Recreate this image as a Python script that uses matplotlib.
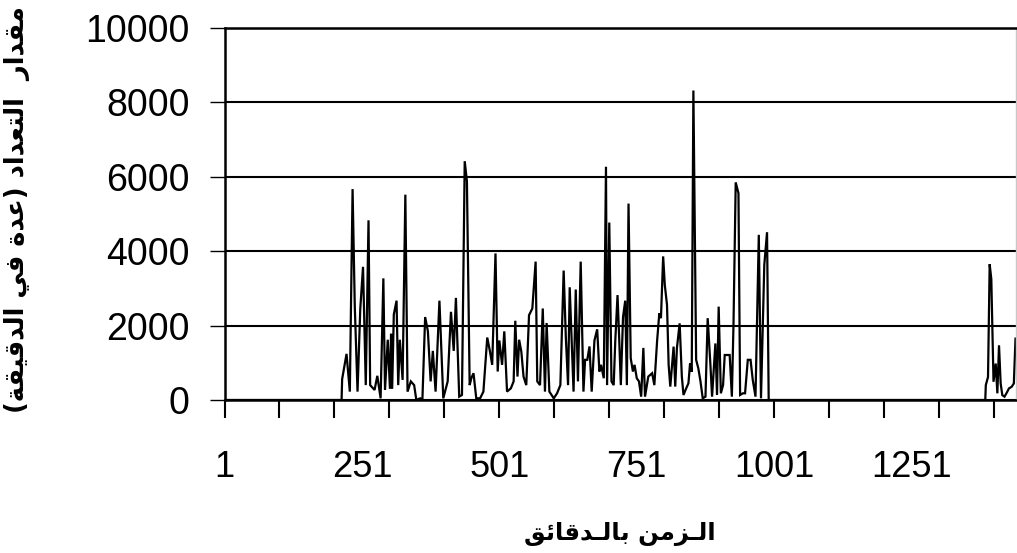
import matplotlib
matplotlib.use("Agg")
import matplotlib.pyplot as plt

# minute of the day (1..1440) and count per minute
minutes = [
    1, 214, 215, 223, 229, 234, 238, 243, 248, 253, 258, 263, 266, 274, 279, 285,
    290, 293, 298, 302, 304, 306, 309, 314, 317, 320, 325, 330, 334, 340, 346, 350,
    357, 361, 366, 371, 376, 380, 385, 392, 399,
    407, 413, 418, 422, 428, 433, 438, 442, 447, 450, 454, 459, 466, 472, 479, 484,
    488, 494, 498, 501, 506, 510, 515, 522, 527, 530, 534, 537, 541, 545, 550, 555,
    561, 567, 570, 575, 580, 584, 587, 592,
    600, 606, 612, 618, 622, 626, 629, 633, 636, 640, 644, 649, 654, 657, 661, 665,
    669, 674, 679, 683, 686, 691, 695, 697, 701, 705, 709, 712, 716, 719, 722, 726,
    730, 733, 736, 740, 744, 747, 751, 755, 759, 763, 766, 772,
    779, 783, 788, 792, 795, 799, 802, 806, 809, 812, 818, 821, 824, 829, 833, 836,
    841, 845, 848, 851, 854, 859, 863, 867, 871, 876, 880, 885, 888, 894, 897, 900,
    904, 908, 911, 916, 920, 924, 927, 931, 936, 939, 944, 948, 953, 958, 962, 967,
    973, 977, 983, 988, 991,
    1385, 1386, 1390, 1393, 1396, 1400, 1404, 1407, 1410, 1413, 1416, 1420, 1425,
    1428, 1433, 1437, 1440,
]
counts = [
    0, 0, 560, 1240, 225, 5670, 2520, 225, 2450, 3580, 400, 4830, 400, 270, 650, 45,
    3270, 270, 1620, 300, 1780, 300, 2300, 2670, 400, 1620, 540, 5520, 225, 500, 400, 0,
    45, 0, 2230, 1850, 500, 1320, 225, 2670, 45,
    500, 2370, 1320, 2745, 90, 135, 6420, 5880, 400, 585, 720, 45, 45, 225, 1680, 1300,
    945, 3940, 765, 1600, 945, 1845, 225, 315, 500, 2130, 630, 1620, 1300, 630, 400, 2280,
    2460, 3720, 500, 400, 2460, 225, 2070, 225,
    45, 180, 400, 3480, 1665, 400, 3030, 1400, 225, 2970, 500, 3720, 225, 1080, 1080, 1440,
    225, 1600, 1900, 765, 945, 585, 6270, 400, 4770, 500, 400, 1620, 2820, 1665, 400, 2230,
    2670, 400, 5280, 1125, 765, 945, 585, 500, 90, 1400, 90, 630,
    720, 400, 1590, 2330, 2200, 3860, 3090, 2560, 940, 360, 1435, 360, 1390, 2060, 630, 135,
    315, 450, 990, 760, 8320, 1080, 850, 490, 45, 90, 2200, 940, 90, 1520, 135, 2510,
    180, 400, 1210, 1210, 1210, 90, 2060, 5850, 5560, 135, 180, 180, 1080, 1080, 540, 90,
    4440, 45, 3630, 4510, 0,
    0, 400, 620, 3650, 3250, 490, 980, 180, 1470, 445, 130, 90, 220,
    310, 355, 445, 1650,
]

tick_marks = list(range(1, 1441, 100))
label_ticks = [1, 251, 501, 751, 1001, 1251]
y_ticks = [0, 2000, 4000, 6000, 8000, 10000]

x_title = "الـزمن بالـدقائق"
y_title = "مقدار  التعداد (عدة في الدقيقة)"

# isolated, final, initial, medial presentation forms
FORMS = {
    "\u0627": ("\ufe8d", "\ufe8e", None, None),
    "\u0628": ("\ufe8f", "\ufe90", "\ufe91", "\ufe92"),
    "\u0629": ("\ufe93", "\ufe94", None, None),
    "\u062a": ("\ufe95", "\ufe96", "\ufe97", "\ufe98"),
    "\u062f": ("\ufea9", "\ufeaa", None, None),
    "\u0631": ("\ufead", "\ufeae", None, None),
    "\u0632": ("\ufeaf", "\ufeb0", None, None),
    "\u0639": ("\ufec9", "\ufeca", "\ufecb", "\ufecc"),
    "\u0641": ("\ufed1", "\ufed2", "\ufed3", "\ufed4"),
    "\u0642": ("\ufed5", "\ufed6", "\ufed7", "\ufed8"),
    "\u0644": ("\ufedd", "\ufede", "\ufedf", "\ufee0"),
    "\u0645": ("\ufee1", "\ufee2", "\ufee3", "\ufee4"),
    "\u0646": ("\ufee5", "\ufee6", "\ufee7", "\ufee8"),
    "\u064a": ("\ufef1", "\ufef2", "\ufef3", "\ufef4"),
    "\u0626": ("\ufe89", "\ufe8a", "\ufe8b", "\ufe8c"),
    "\u0640": ("\u0640", "\u0640", "\u0640", "\u0640"),
}


def shape_rtl(text):
    # matplotlib has no arabic shaping, so pick joined forms and reverse
    out = []
    for i, ch in enumerate(text):
        if ch not in FORMS:
            out.append(ch)
            continue
        prev = text[i - 1] if i > 0 else ""
        nxt = text[i + 1] if i + 1 < len(text) else ""
        join_prev = prev in FORMS and FORMS[prev][2] is not None
        join_next = FORMS[ch][2] is not None and nxt in FORMS
        iso, fin, ini, med = FORMS[ch]
        if join_prev and join_next:
            out.append(med)
        elif join_prev:
            out.append(fin)
        elif join_next:
            out.append(ini)
        else:
            out.append(iso)
    return "".join(reversed(out)).translate(str.maketrans("()", ")("))


W, H = 1017, 553
fig = plt.figure(figsize=(W / 100, H / 100), dpi=100)
ax = fig.add_axes([224.5 / W, 1 - 400 / H, (1015.5 - 224.5) / W, 372 / H])

ax.plot(minutes, counts, color="black", linewidth=1.6, solid_joinstyle="miter")

ax.set_xlim(1, 1440)
ax.set_ylim(0, 10000)

# tick marks every 100 minutes, labels every 250
ax.xaxis.remove_overlapping_locs = False
ax.set_xticks(tick_marks)
ax.set_xticklabels([])
ax.set_xticks(label_ticks, [str(v) for v in label_ticks], minor=True)
ax.tick_params(axis="x", which="major", length=13, width=1.5, color="black")
ax.tick_params(axis="x", which="minor", length=0, pad=36)

ax.set_yticks(y_ticks, [str(v) for v in y_ticks])
ax.tick_params(axis="y", length=11, width=1.0, color="black", pad=14)

for lab in ax.get_xticklabels(minor=True):
    lab.set_fontfamily("Liberation Sans")
    lab.set_fontsize(26)
for lab in ax.get_yticklabels():
    lab.set_fontfamily("Liberation Sans")
    lab.set_fontsize(27)

ax.grid(axis="y", color="black", linewidth=1.5)
ax.set_axisbelow(True)
for side in ["left", "bottom", "top"]:
    ax.spines[side].set_color("black")
    ax.spines[side].set_linewidth(1.8)
ax.spines["right"].set_color("#c8c8c8")
ax.spines["right"].set_linewidth(1.0)

fig.text(620 / W, 1 - 534 / H, shape_rtl(x_title), family=["DejaVu Sans"],
         fontweight="bold", fontsize=17.5, ha="center", va="center")
fig.text(17 / W, 1 - 210 / H, shape_rtl(y_title), family=["DejaVu Sans"],
         fontweight="bold", fontsize=18.5, ha="center", va="center", rotation=90)

fig.savefig("out.png", dpi=100, facecolor="white")
